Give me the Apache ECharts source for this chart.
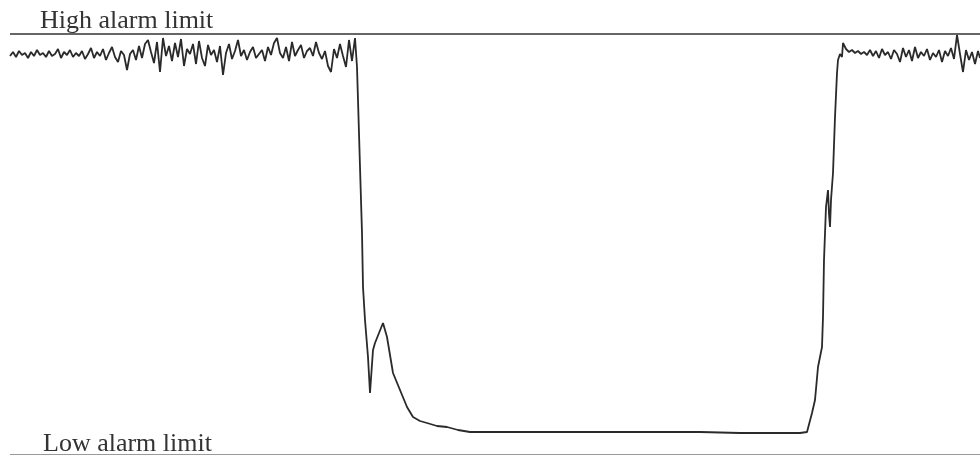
<!DOCTYPE html>
<html>
<head>
<meta charset="utf-8">
<script src="https://cdn.jsdelivr.net/npm/echarts@6/dist/echarts.min.js"></script>
<style>html,body{margin:0;padding:0;background:#fff}#c{width:980px;height:456px}</style>
</head>
<body>
<div id="c"></div>
<script>
// Alarm limits (signal units)
const highLimit = 420;
const lowLimit = 0;
const limitNames = ['High alarm limit', 'Low alarm limit'];

// Normal operation before the upset: [time, value]
const before = [
[10,398],[13,402],[16,397],[19,403],[22,399],[25,401],[28,396],[31,402],[34,398],[37,404],
[40,399],[43,401],[46,397],[49,403],[52,398],[55,400],[58,405],[61,396],[64,402],[67,399],
[70,404],[73,397],[76,401],[79,398],[82,403],[85,395],[88,400],[91,406],[94,396],[97,402],
[100,398],[103,405],[106,394],[109,401],[112,407],[115,397],[118,392],[121,403],[124,399],[127,384],
[130,400],[133,404],[136,394],[139,408],[142,396],[145,410],[148,414],[151,402],[154,391],[157,412],
[160,382],[163,416],[166,398],[169,408],[172,393],[175,411],[178,397],[181,415],[184,388],[187,405],
[190,400],[193,410],[196,390],[199,413],[202,396],[205,388],[208,409],[211,399],[214,404],[217,392],
[220,408],[223,379],[226,401],[229,410],[232,395],[235,403],[238,414],[241,398],[244,404],[247,394],
[250,402],[253,407],[256,396],[259,400],[262,404],[265,393],[268,407],[271,399],[274,411],[277,416],
[280,401],[283,396],[286,407],[289,393],[292,412],[295,398],[298,404],[301,409],[304,396],[307,403],
[310,406],[313,398],[316,412],[319,401],[322,395],[325,403],[328,388],[331,382],[334,405],[337,396],
[340,410],[343,398],[346,387],[349,414],[352,393],[355,416]
];

// Upset: drop, low plateau and recovery
const upset = [
[357,387],[358,354],[360,287],[362,221],[363,167],[365,134],[368,97],[370,61],[373,104],[375,111],
[383,131],[387,117],[393,81],[400,64],[407,47],[413,37],[420,33],[427,31],[437,28],[447,27],
[458,24],[470,22],[500,22],[540,22],[580,22],[620,22],[660,22],[700,22],[740,21],[780,21],
[800,21],[807,22],[812,41],[815,54],[818,87],[822,107],[823,137],[824,194],[826,247],[828,264],
[829,240],[830,227],[831,254],[833,281],[835,337],[837,381],[838,394],[840,400],[842,397],[843,411]
];

// Normal operation after recovery
const after = [
[846,405],[849,402],[852,404],[855,401],[858,403],[861,400],[864,402],[867,399],[870,404],[873,398],
[876,403],[879,396],[882,405],[885,399],[888,402],[891,395],[894,404],[897,400],[900,392],[903,406],
[906,397],[909,404],[912,393],[915,407],[918,396],[921,402],[924,398],[927,405],[930,394],[933,401],
[936,397],[939,404],[942,392],[945,403],[948,398],[951,406],[954,395],[957,419],[960,400],[963,382],
[966,404],[969,394],[972,402],[975,390],[978,403],[980,396]
];

const signal = before.concat(upset, after);

const chart = echarts.init(document.getElementById('c'));
chart.setOption({
  animation: false,
  backgroundColor: '#ffffff',
  grid: { left: 10, right: 0, top: 34, bottom: 2 },
  xAxis: { type: 'value', min: 10, max: 980, show: false },
  yAxis: { type: 'value', min: 0, max: 420, show: false },
  series: [{
    type: 'line',
    data: signal,
    showSymbol: false,
    lineStyle: { color: '#2a2a2a', width: 1.8 },
    markLine: {
      silent: true,
      symbol: 'none',
      data: [
        { name: limitNames[0], yAxis: highLimit, lineStyle: { color: '#333', width: 1.6, type: 'solid' },
          label: { distance: [30, 0] } },
        { name: limitNames[1], yAxis: lowLimit, lineStyle: { color: '#999', width: 1, type: 'solid' },
          label: { distance: [33, -3] } }
      ],
      label: {
        show: true,
        position: 'insideStartTop',
        formatter: '{b}',
        color: '#333',
        fontFamily: '"Liberation Serif", serif',
        fontSize: 26
      }
    }
  }]
});
</script>
</body>
</html>
